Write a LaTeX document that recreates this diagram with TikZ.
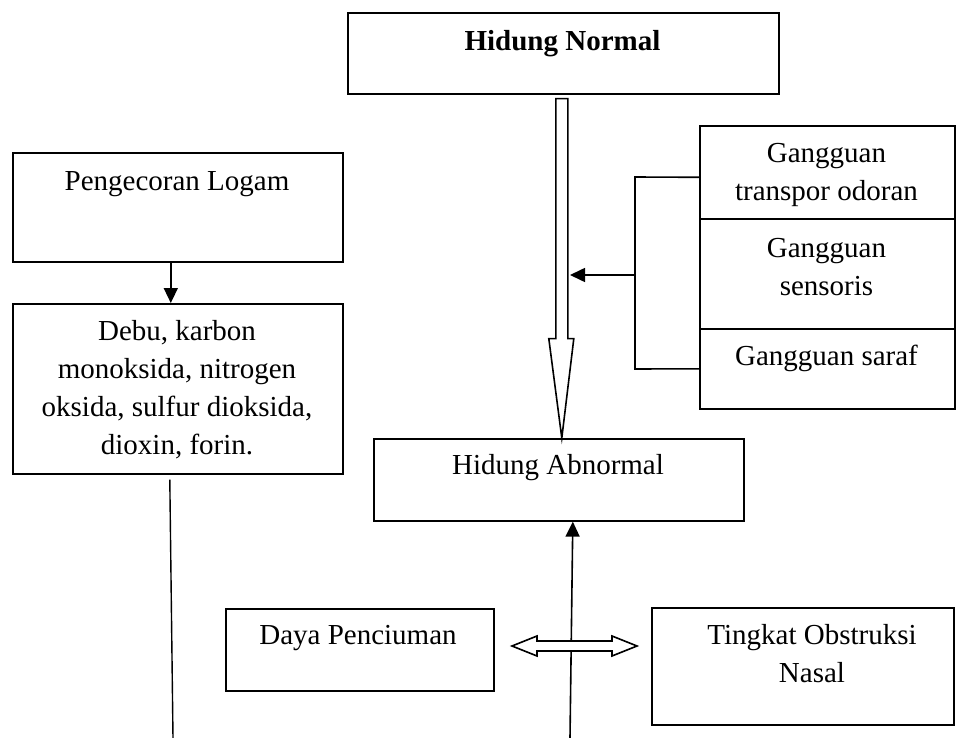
\documentclass[tikz,border=0pt]{standalone}
\usepackage{fontspec}
\setmainfont{Liberation Serif}
\usetikzlibrary{calc,arrows.meta}
\begin{document}
\begin{tikzpicture}[x=1pt,y=-1pt,
  box/.style={draw,line width=1.6pt,inner sep=0pt,anchor=north west,rectangle},
  txt/.style={font=\fontsize{29}{38}\selectfont,align=center,inner sep=0pt},
  ln/.style={line width=1.6pt},
  arr/.style={line width=1.6pt,-{Triangle[length=15pt,width=14pt]}},
  hollow/.style={draw,line width=1.6pt,fill=white,line join=miter}]
\useasboundingbox[fill=white] (0,0) rectangle (964,738);

% boxes
\node[box,minimum width=431pt,minimum height=81pt] (hn) at (347,12) {};
\node[box,minimum width=330pt,minimum height=109pt] (pl) at (12,152) {};
\node[box,minimum width=330pt,minimum height=170pt] (db) at (12,303) {};
\node[box,minimum width=255pt,minimum height=93pt] (g1) at (699,125) {};
\node[box,minimum width=255pt,minimum height=110pt] (g2) at (699,218) {};
\node[box,minimum width=255pt,minimum height=80pt] (g3) at (699,328) {};
\node[box,minimum width=370pt,minimum height=82pt] (ha) at (373,438) {};
\node[box,minimum width=268pt,minimum height=82pt] (dp) at (225,608) {};
\node[box,minimum width=302pt,minimum height=117pt] (to) at (651,607) {};

% texts
\node[txt] (hnt) at (562.5,44) {\bfseries Hidung Normal};
\node[txt] (plt) at (177,184) {Pengecoran Logam};
\node[txt] (dbt) at (177,390) {Debu, karbon\\monoksida, nitrogen\\oksida, sulfur dioksida,\\dioxin, forin.};
\node[txt] (g1t) at (826.5,175) {Gangguan\\transpor odoran};
\node[txt] (g2t) at (826.5,267) {Gangguan\\sensoris};
\node[txt] (g3t) at (826.5,358) {Gangguan saraf};
\node[txt] (hat) at (558,468) {Hidung Abnormal};
\node[txt] (dpt) at (358,638) {Daya Penciuman};
\node[txt] (tot) at (812,654) {Tingkat Obstruksi\\Nasal};

% arrow Pengecoran -> Debu
\draw[arr] ($(pl.south)+(-7,0)$) -- ($(db.north)+(-7,0)$);

% hollow down arrow Hidung Normal -> Hidung Abnormal
\coordinate (dtop) at ($(hn.south)+(-1.5,4)$);
\coordinate (dtip) at ($(ha.north)+(3,0)$);
\draw[hollow] ($(dtop)+(-6,0)$) -- ($(dtop)+(6,0)$) -- ($(dtop)+(6,240)$)
  -- ($(dtop)+(12,240)$) -- (dtip) -- ($(dtop)+(-13,240)$)
  -- ($(dtop)+(-6,240)$) -- cycle;

% bracket from Gangguan boxes
\coordinate (bt) at (635,177);
\coordinate (bb) at (635,369);
\coordinate (bm) at (635,275);
\coordinate (bh) at (570,275);
\draw[ln] ($(g1.west)+(0,5)$) -- (bt) -- (bb) -- (g3.west);
\draw[arr] (bm) -- (bh);

% line from Debu box downward
\coordinate (lt) at ($(db.south)+(-8,5)$);
\coordinate (lb) at (173,738);
\draw[line width=1.4pt] (lt) -- (lb);

% arrow up to Hidung Abnormal
\coordinate (ub) at (570,738);
\draw[arr] (ub) -- ($(ha.south)+(14,0)$);

% double hollow arrow
\coordinate (dl) at (512,646);
\coordinate (dr) at (637,646);
\draw[hollow] (dl) -- ($(dl)+(25,-10)$) -- ($(dl)+(25,-5)$) -- ($(dr)+(-25,-5)$)
  -- ($(dr)+(-25,-10)$) -- (dr) -- ($(dr)+(-25,10)$) -- ($(dr)+(-25,5)$)
  -- ($(dl)+(25,5)$) -- ($(dl)+(25,10)$) -- cycle;
\end{tikzpicture}
\end{document}
